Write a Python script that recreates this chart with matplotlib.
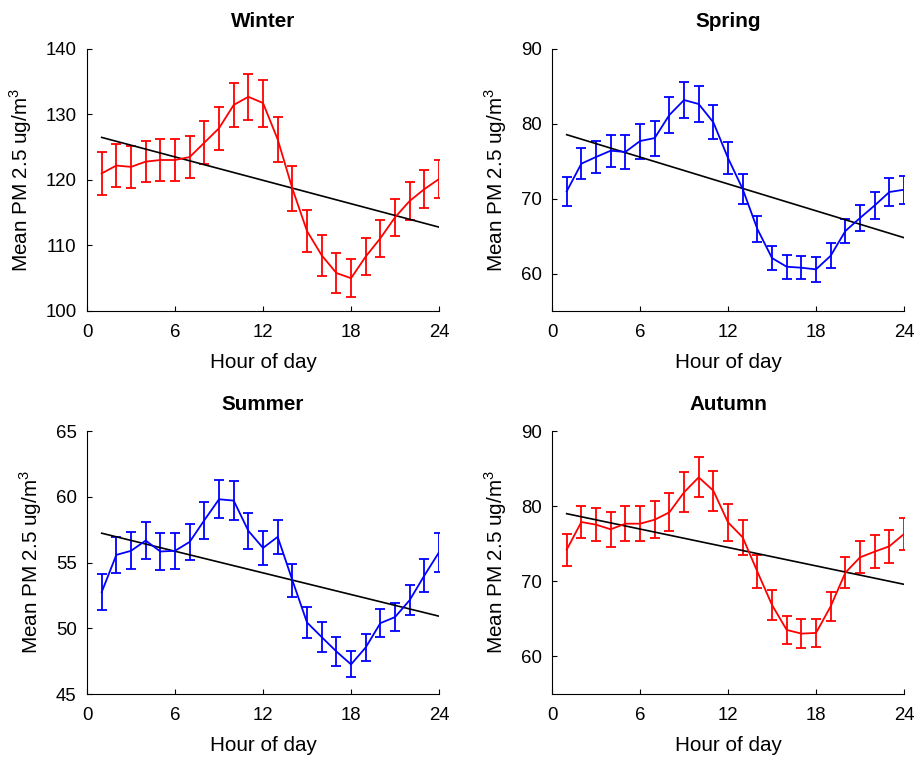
#!/usr/bin/env python3
"""Diurnal PM2.5 profiles per season with error bars and linear trend."""

import matplotlib
matplotlib.use("Agg")
import matplotlib.pyplot as plt

plt.rcParams["font.family"] = ["Liberation Sans", "DejaVu Sans"]
plt.rcParams["mathtext.fontset"] = "custom"
plt.rcParams["mathtext.rm"] = "Liberation Sans"

hours = list(range(1, 25))

winter_mean = [121.0, 122.2, 122.0, 122.8, 123.05, 123.05, 123.5, 125.7, 127.9, 131.45, 132.7, 131.75,
               126.2, 118.7, 112.2, 108.5, 105.8, 105.0, 108.3, 111.1, 114.3, 116.8, 118.6, 120.15]
winter_err = [3.23, 3.23, 3.16, 3.1, 3.13, 3.16, 3.23, 3.33, 3.26, 3.36, 3.51, 3.59,
              3.41, 3.38, 3.26, 3.13, 2.98, 2.9, 2.82, 2.8, 2.85, 2.88, 2.93, 2.95]
winter_trend = [126.5, 112.8]

spring_mean = [70.98, 74.68, 75.57, 76.41, 76.24, 77.7, 78.1, 81.18, 83.18, 82.65, 80.2, 75.43,
               71.29, 65.95, 62.07, 60.91, 60.78, 60.56, 62.38, 65.68, 67.42, 69.1, 70.89, 71.2]
spring_err = [1.98, 2.09, 2.2, 2.16, 2.27, 2.34, 2.34, 2.4, 2.45, 2.45, 2.29, 2.18,
              2.0, 1.76, 1.6, 1.58, 1.56, 1.63, 1.65, 1.65, 1.71, 1.8, 1.85, 1.85]
spring_trend = [78.55, 64.79]

summer_mean = [52.75, 55.58, 55.89, 56.67, 55.84, 55.89, 56.57, 58.22, 59.81, 59.71, 57.41, 56.11,
               56.95, 53.66, 50.44, 49.33, 48.24, 47.25, 48.54, 50.39, 50.85, 52.14, 54.01, 55.78]
summer_err = [1.37, 1.38, 1.4, 1.4, 1.39, 1.35, 1.38, 1.42, 1.46, 1.49, 1.37, 1.32,
              1.32, 1.25, 1.15, 1.13, 1.08, 0.99, 1.05, 1.06, 1.08, 1.13, 1.23, 1.47]
summer_trend = [57.23, 50.92]

autumn_mean = [74.21, 77.89, 77.54, 76.92, 77.67, 77.67, 78.2, 79.18, 81.84, 83.84, 82.06, 77.85,
               75.85, 71.29, 66.85, 63.53, 63.04, 63.13, 66.67, 71.15, 73.19, 73.95, 74.66, 76.3]
autumn_err = [2.15, 2.17, 2.24, 2.33, 2.37, 2.37, 2.48, 2.55, 2.66, 2.66, 2.64, 2.42,
              2.31, 2.22, 2.0, 1.84, 1.88, 1.84, 1.91, 2.06, 2.13, 2.17, 2.17, 2.15]
autumn_trend = [79.0, 69.6]

x_ticks = [0, 6, 12, 18, 24]


def draw_panel(ax, title, mean, err, trend, color, ylim, yticks):
    ax.errorbar(hours, mean, yerr=err, color=color, lw=1.3, elinewidth=1.3,
                capsize=3.8, capthick=1.3)
    ax.plot([hours[0], hours[-1]], trend, color="black", lw=1.2)
    ax.set_xlim(0, 24)
    ax.set_ylim(*ylim)
    ax.set_xticks(x_ticks)
    ax.set_yticks(yticks)
    ax.tick_params(direction="in", length=3.5, width=0.8, labelsize=13.4)
    ax.tick_params(axis="x", pad=9.5)
    ax.tick_params(axis="y", pad=7.5)
    ax.spines["top"].set_visible(False)
    ax.spines["right"].set_visible(False)
    ax.set_title(title, fontsize=14.9, fontweight="bold", pad=15.5)
    ax.set_xlabel("Hour of day", fontsize=14.9, labelpad=8.5)
    ax.set_ylabel("Mean PM 2.5 ug/m$^3$", fontsize=14.9, labelpad=8)


def main() -> None:
    fig = plt.figure(figsize=(9.15, 7.57), dpi=100)
    w = 0.3847
    ax_w = fig.add_axes([0.0951, 0.5892, w, 0.3461])
    ax_sp = fig.add_axes([0.6033, 0.5892, w, 0.3461])
    ax_su = fig.add_axes([0.0951, 0.0832, w, 0.3474])
    ax_au = fig.add_axes([0.6033, 0.0832, w, 0.3474])

    draw_panel(ax_w, "Winter", winter_mean, winter_err, winter_trend, "#ff0000",
               (100, 140), [100, 110, 120, 130, 140])
    draw_panel(ax_sp, "Spring", spring_mean, spring_err, spring_trend, "#0000ff",
               (55, 90), [60, 70, 80, 90])
    draw_panel(ax_su, "Summer", summer_mean, summer_err, summer_trend, "#0000ff",
               (45, 65), [45, 50, 55, 60, 65])
    draw_panel(ax_au, "Autumn", autumn_mean, autumn_err, autumn_trend, "#ff0000",
               (55, 90), [60, 70, 80, 90])

    fig.savefig("out.png", dpi=100)
    plt.close(fig)


if __name__ == "__main__":
    main()
